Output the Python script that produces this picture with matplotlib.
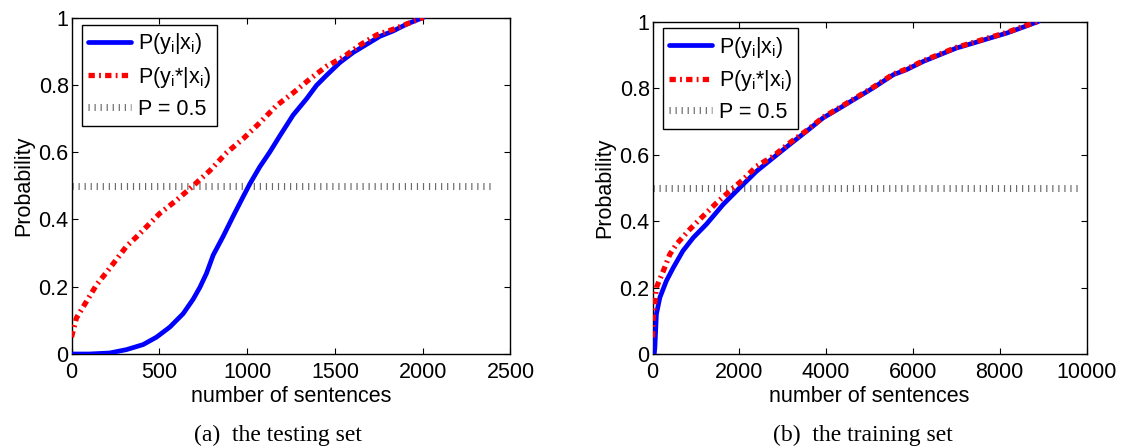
import numpy as np
import matplotlib
matplotlib.use("Agg")
import matplotlib.pyplot as plt

plt.rcParams['font.family'] = ['Liberation Sans', 'DejaVu Sans']
plt.rcParams['mathtext.fontset'] = 'custom'
plt.rcParams['mathtext.rm'] = 'Liberation Sans'
plt.rcParams['mathtext.it'] = 'Liberation Sans'
plt.rcParams['mathtext.bf'] = 'Liberation Sans:bold'

# ---------------- data: (a) testing set ----------------
test_x_true = [0, 100, 218, 313, 408, 484, 560, 636, 693, 731, 769, 807, 864, 921,
               978, 1016, 1072, 1129, 1186, 1262, 1338, 1395, 1452, 1528, 1604, 1680,
               1756, 1832, 1908, 2003]
test_y_true = [0.0, 0.0, 0.003, 0.013, 0.028, 0.050, 0.080, 0.120, 0.163, 0.198,
               0.240, 0.294, 0.350, 0.410, 0.468, 0.506, 0.556, 0.600, 0.648, 0.710,
               0.758, 0.798, 0.828, 0.866, 0.896, 0.920, 0.944, 0.960, 0.980, 1.0]
test_x_best = [0, 28, 85, 142, 218, 313, 370, 446, 503, 598, 693, 788, 883, 978,
               1072, 1167, 1262, 1357, 1452, 1547, 1642, 1737, 1832, 2003]
test_y_best = [0.05, 0.107, 0.156, 0.205, 0.255, 0.32, 0.348, 0.388, 0.418, 0.457,
               0.50, 0.545, 0.598, 0.64, 0.687, 0.738, 0.776, 0.817, 0.855, 0.882, 0.918,
               0.948, 0.965, 1.0]
test_ref_x = [0, 2400]
test_ref_y = [0.5, 0.5]

# ---------------- data: (b) training set ----------------
train_x_true = [40, 55, 90, 170, 320, 480, 700, 940, 1240, 1630, 2010, 2400, 2780,
                3160, 3550, 3930, 4320, 4700, 5080, 5550, 5850, 6240, 6620, 7000,
                7390, 7770, 8160, 8540, 8890]
train_y_true = [0.0, 0.02, 0.12, 0.17, 0.22, 0.26, 0.31, 0.35, 0.39, 0.45, 0.50, 0.55,
                0.59, 0.63, 0.67, 0.71, 0.74, 0.77, 0.80, 0.84, 0.855, 0.88, 0.90,
                0.92, 0.935, 0.95, 0.965, 0.983, 1.0]
train_x_best = [0, 15, 90, 250, 400, 550, 860, 1090, 1480, 1780, 2090, 2400, 2780,
                3160, 3550, 3930, 4320, 4700, 5080, 5550, 5850, 6240, 6620, 7000,
                7390, 7770, 8160, 8540, 8890]
train_y_best = [0.05, 0.11, 0.20, 0.25, 0.30, 0.33, 0.375, 0.405, 0.455, 0.49, 0.525,
                0.565, 0.595, 0.635, 0.672, 0.712, 0.742, 0.772, 0.802, 0.842, 0.857,
                0.882, 0.902, 0.922, 0.937, 0.952, 0.967, 0.985, 1.0]
train_ref_x = [0, 9800]
train_ref_y = [0.5, 0.5]

labels = [r'P(y$_\mathrm{i}$|x$_\mathrm{i}$)',
          r'P(y$_\mathrm{i}$*|x$_\mathrm{i}$)',
          'P = 0.5']
y_ticks = [0, 0.2, 0.4, 0.6, 0.8, 1]
y_ticklabels = ['0', '0.2', '0.4', '0.6', '0.8', '1']
test_xticks = [0, 500, 1000, 1500, 2000, 2500]
train_xticks = [0, 2000, 4000, 6000, 8000, 10000]
captions = ['(a)  the testing set', '(b)  the training set']

FS = 15.5
fig = plt.figure(figsize=(11.22, 4.48), dpi=100)
ax1 = fig.add_axes([71.5/1122, 1-354/448, (510.5-71.5)/1122, (354-17.5)/448])
ax2 = fig.add_axes([652.5/1122, 1-354/448, (1086.5-652.5)/1122, (354-21.5)/448])

def draw(ax, xt, yt, xb, yb, rx, ry, xticks, xmax, leg_anchor):
    l1, = ax.plot(xt, yt, color='#0000ff', lw=3.4, solid_capstyle='round',
                  solid_joinstyle='round', zorder=3)
    l2, = ax.plot(xb, yb, color='#ff0000', lw=3.8, dash_capstyle='butt',
                  linestyle=(0, (1.2, 0.8, 0.35, 0.8)), zorder=4)
    l3, = ax.plot(rx, ry, color='#6a6a6a', lw=5.0, dash_capstyle='butt',
                  linestyle=(0, (0.17, 0.70)), zorder=2)
    ax.set_xlim(0, xmax)
    ax.set_ylim(0, 1)
    ax.set_xticks(xticks)
    ax.set_xticklabels([str(t) for t in xticks])
    ax.set_yticks(y_ticks)
    ax.set_yticklabels(y_ticklabels)
    ax.tick_params(direction='in', length=4, width=0.8, top=True, right=True,
                   labelsize=FS, pad=2)
    ax.tick_params(axis='x', pad=6)
    for s in ax.spines.values():
        s.set_linewidth(1.0)
    ax.set_xlabel('number of sentences', fontsize=FS, labelpad=2)
    ax.set_ylabel('Probability', fontsize=FS, labelpad=3)
    leg = ax.legend([l1, l2, l3], labels, loc='upper left', bbox_to_anchor=leg_anchor,
                    borderaxespad=0, fontsize=FS, fancybox=False, framealpha=1,
                    edgecolor='black', handlelength=2.0, handletextpad=0.3,
                    labelspacing=0.4, borderpad=0.3)
    leg.get_frame().set_linewidth(1.0)

draw(ax1, test_x_true, test_y_true, test_x_best, test_y_best, test_ref_x, test_ref_y,
     test_xticks, 2500, (0.023, 0.978))
draw(ax2, train_x_true, train_y_true, train_x_best, train_y_best, train_ref_x, train_ref_y,
     train_xticks, 10000, (0.024, 0.980))

fig.text(278/1122, 1-435/448, captions[0], ha='center', va='center', fontsize=17,
         family=['Liberation Serif', 'DejaVu Serif'])
fig.text(863/1122, 1-435/448, captions[1], ha='center', va='center', fontsize=17,
         family=['Liberation Serif', 'DejaVu Serif'])

fig.savefig('out.png', dpi=100)
